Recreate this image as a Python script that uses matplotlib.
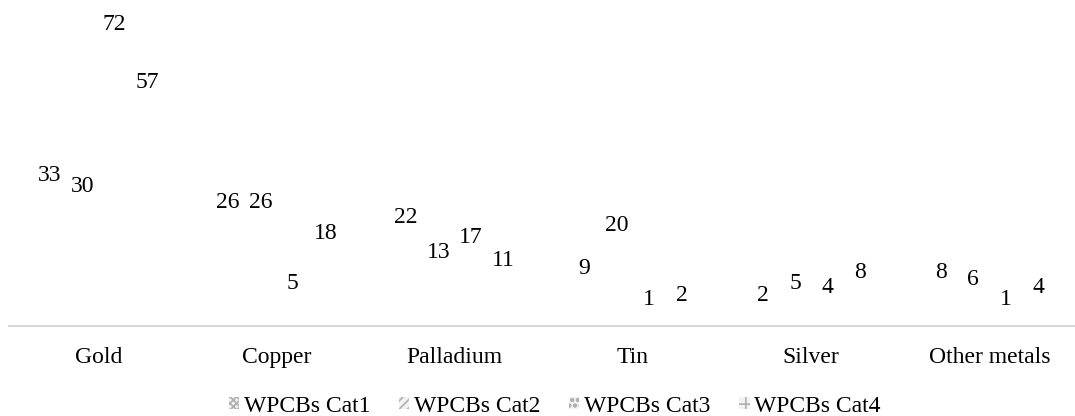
import numpy as np
import matplotlib
matplotlib.use("Agg")
import matplotlib.pyplot as plt
from matplotlib.patches import Patch

plt.rcParams['font.family'] = ['Liberation Serif', 'DejaVu Serif']
plt.rcParams['hatch.linewidth'] = 1.2

metals = ['Gold', 'Copper', 'Palladium', 'Tin', 'Silver', 'Other metals']
series = ['WPCBs Cat1', 'WPCBs Cat2', 'WPCBs Cat3', 'WPCBs Cat4']
cat1 = [33, 26, 22, 9, 2, 8]
cat2 = [30, 26, 13, 20, 5, 6]
cat3 = [72, 5, 17, 1, 4, 1]
cat4 = [57, 18, 11, 2, 8, 4]
hatches = ['xxxxx', '////', 'ooo', '++']

fig = plt.figure(figsize=(10.75, 4.16), dpi=100)
ax = fig.add_axes([0.0087, 0.2163, 0.9946, 0.7443])

x = np.arange(len(metals))
step = 0.182
for j, vals in enumerate([cat1, cat2, cat3, cat4]):
    pos = x + (j - 1.5) * step
    # bars are drawn but blank, as in the source image
    ax.bar(pos, vals, width=step * 0.9, facecolor='none', edgecolor='none')
    for px, v in zip(pos, vals):
        ax.annotate(str(v), (px, v), xytext=(0, 16.5), textcoords='offset points',
                    ha='center', va='center', fontsize=17, color='#000000')

ax.set_xlim(-0.5, 5.5)
ax.set_ylim(0, 80)
ax.set_xticks(x)
ax.set_xticklabels(metals, fontsize=17)
ax.tick_params(axis='x', length=0, pad=15)
ax.set_yticks([])
for s in ['top', 'left', 'right']:
    ax.spines[s].set_visible(False)
ax.spines['bottom'].set_color('#d9d9d9')
ax.spines['bottom'].set_linewidth(1.5)

handles = [Patch(facecolor='#f2f2f2', edgecolor='#b0b0b0', hatch=h, linewidth=0, label=s)
           for s, h in zip(series, hatches)]
fig.legend(handles=handles, loc='center', bbox_to_anchor=(0.516, 0.024), ncol=4,
           frameon=False, fontsize=17, handlelength=0.45, handleheight=0.45,
           handletextpad=0.2, columnspacing=1.2, borderaxespad=0, borderpad=0)

fig.savefig('out.png', dpi=100)
